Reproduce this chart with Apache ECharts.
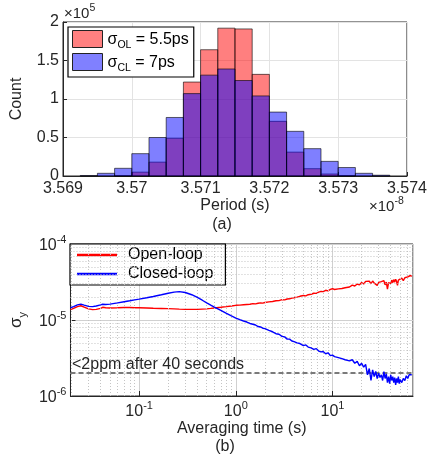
<!DOCTYPE html>
<html>
<head>
<meta charset="utf-8">
<script src="https://cdn.jsdelivr.net/npm/echarts@6/dist/echarts.min.js"></script>
<style>
html,body{margin:0;padding:0;background:#fff;}
#chart{width:430px;height:457px;}
</style>
</head>
<body>
<div id="chart"></div>
<script>
// ---------- (a) Histogram data (period in 1e-8 s, counts in 1e5) ----------
const binEdges = [3.56925, 3.5695, 3.56975, 3.57, 3.57025, 3.5705, 3.57075, 3.571, 3.57125, 3.5715, 3.57175, 3.572, 3.57225, 3.5725, 3.57275, 3.573, 3.57325, 3.5735, 3.57375];
const openLoopCounts   = [0, 0, 0.003, 0.05, 0.18, 0.49, 1.22, 1.64, 1.92, 1.91, 1.32, 0.71, 0.31, 0.095, 0.026, 0.005, 0, 0];
const closedLoopCounts = [0.005, 0.035, 0.10, 0.29, 0.50, 0.76, 1.07, 1.31, 1.39, 1.24, 1.04, 0.83, 0.58, 0.355, 0.19, 0.11, 0.035, 0.01];
const periodTicks = [3.569, 3.57, 3.571, 3.572, 3.573, 3.574];
const countTicks = [0, 0.5, 1, 1.5, 2];

// ---------- (b) Allan deviation data (sigma in 1e-5) ----------
const tau = [0.0195, 0.021, 0.023, 0.025, 0.027, 0.03, 0.033, 0.036, 0.04, 0.042, 0.045, 0.05, 0.06, 0.07, 0.08, 0.09, 0.1,
  0.12, 0.14, 0.17, 0.2, 0.23, 0.26, 0.3, 0.35, 0.4, 0.45, 0.5, 0.55, 0.6, 0.7, 0.8, 0.9, 1.0,
  1.1, 1.2, 1.3, 1.4, 1.5, 1.6, 1.7, 1.8, 1.9, 2.0, 2.2, 2.4, 2.6, 2.8, 3.0, 3.2, 3.4, 3.6, 3.8, 4.0,
  4.3, 4.6, 5.0, 5.3, 5.6, 6.0, 6.4, 6.8, 7.2, 7.6, 8.0, 8.5, 9.0, 9.5, 10,
  10.5, 11, 11.5, 12, 12.5, 13, 13.5, 14,
  15, 16, 17, 18, 19, 20, 21, 22, 23, 24, 25, 26, 27, 28, 29, 30, 31, 32, 33, 34,
  35, 36, 37, 38, 39, 40, 41, 42, 43, 44, 45, 46, 47, 48, 49, 50,
  52, 54, 56, 58, 60, 62, 64, 66];
const openLoop = [1.37, 1.42, 1.50, 1.54, 1.48, 1.40, 1.37, 1.38, 1.42, 1.47, 1.45, 1.44, 1.45, 1.46, 1.46, 1.45, 1.45,
  1.44, 1.43, 1.42, 1.41, 1.40, 1.39, 1.38, 1.38, 1.38, 1.39, 1.40, 1.42, 1.44, 1.47, 1.50, 1.53, 1.56,
  1.57, 1.59, 1.60, 1.61, 1.64, 1.63, 1.66, 1.68, 1.67, 1.70, 1.73, 1.75, 1.79, 1.80, 1.85, 1.84, 1.89, 1.90, 1.94, 1.96,
  2.00, 2.05, 2.10, 2.08, 2.15, 2.18, 2.25, 2.24, 2.33, 2.38, 2.36, 2.46, 2.42, 2.53, 2.58,
  2.52, 2.64, 2.57, 2.68, 2.60, 2.74, 2.66, 2.78,
  2.72, 2.88, 2.80, 2.97, 2.90, 3.12, 2.98, 3.22, 3.05, 3.24, 3.00, 3.26, 3.06, 3.18, 2.86, 3.12, 2.95, 3.20, 3.05, 3.30,
  2.90, 3.15, 2.55, 3.10, 3.25, 3.00, 3.35, 3.10, 3.40, 3.15, 3.45, 3.20, 2.85, 3.35, 3.50, 3.25,
  3.55, 3.30, 3.60, 3.45, 3.70, 3.55, 3.85, 3.75];
const closedLoop = [1.45, 1.50, 1.58, 1.62, 1.57, 1.51, 1.50, 1.53, 1.58, 1.61, 1.60, 1.62, 1.68, 1.74, 1.79, 1.84, 1.88,
  1.96, 2.04, 2.15, 2.25, 2.33, 2.36, 2.30, 2.15, 1.98, 1.82, 1.68, 1.57, 1.48, 1.34, 1.22, 1.13, 1.06,
  1.01, 0.97, 0.94, 0.90, 0.88, 0.86, 0.82, 0.81, 0.78, 0.77, 0.73, 0.70, 0.66, 0.65, 0.61, 0.60, 0.56, 0.56, 0.53, 0.52,
  0.50, 0.49, 0.46, 0.47, 0.44, 0.43, 0.41, 0.42, 0.39, 0.38, 0.385, 0.36, 0.37, 0.34, 0.345,
  0.33, 0.345, 0.32, 0.33, 0.31, 0.325, 0.30, 0.31,
  0.29, 0.30, 0.27, 0.285, 0.25, 0.27, 0.24, 0.26, 0.19, 0.23, 0.16, 0.22, 0.18, 0.21, 0.17, 0.20, 0.175, 0.19, 0.16, 0.21,
  0.17, 0.195, 0.15, 0.18, 0.145, 0.19, 0.16, 0.18, 0.15, 0.175, 0.14, 0.17, 0.15, 0.18, 0.145, 0.165,
  0.15, 0.17, 0.16, 0.185, 0.17, 0.19, 0.18, 0.19];
const thresholdValue = 2e-6;
const thresholdText = '<2ppm after 40 seconds';

const FONT = '"Liberation Sans", Arial, sans-serif';
const TXT = '#262626';
const AX = '#262626';
const TAU_MIN = 0.0195, TAU_MAX = 68;

function histData(counts) {
  return counts.map((c, i) => [binEdges[i], binEdges[i + 1], c]);
}
function histItem(fill) {
  return function (params, api) {
    const v = api.value(2);
    if (!v) return null;
    const p0 = api.coord([api.value(0), 0]);
    const p1 = api.coord([api.value(1), v]);
    return {
      type: 'rect',
      shape: { x: p0[0], y: p1[1], width: p1[0] - p0[0], height: p0[1] - p1[1] },
      style: { fill: fill, stroke: 'rgba(0,0,0,0.75)', lineWidth: 0.8 }
    };
  };
}

// minor gridline values for log axes
const minorX = [], minorY = [];
for (let d = -2; d <= 1; d++) for (let k = 2; k <= 9; k++) {
  const v = k * Math.pow(10, d);
  if (v > TAU_MIN && v < TAU_MAX) minorX.push(v);
}
for (let d = -6; d <= -5; d++) for (let k = 2; k <= 9; k++) minorY.push(k * Math.pow(10, d));

const supRich = {
  b: { fontSize: 16, fontFamily: FONT, color: TXT, lineHeight: 20, verticalAlign: 'bottom' },
  e: { fontSize: 11, fontFamily: FONT, color: TXT, lineHeight: 20, verticalAlign: 'top', padding: [0, 0, 6, 0] }
};
const legendRich = {
  a: { fontSize: 16, fontFamily: FONT, color: '#000', lineHeight: 18, verticalAlign: 'bottom' },
  s: { fontSize: 10.5, fontFamily: FONT, color: '#000', lineHeight: 18, verticalAlign: 'bottom', padding: [0, 0, -3, 0] }
};

const chart = echarts.init(document.getElementById('chart'), null, { renderer: 'canvas' });
const option = {
  animation: false,
  backgroundColor: '#fff',
  textStyle: { fontFamily: FONT },
  grid: [
    { left: 63, top: 22, width: 346, height: 154, show: true, borderColor: AX, borderWidth: 1, backgroundColor: '#fff', containLabel: false },
    { left: 63, top: 244, width: 350, height: 152, show: true, borderColor: AX, borderWidth: 1, backgroundColor: '#fff', containLabel: false }
  ],
  xAxis: [
    {
      gridIndex: 0, type: 'value', min: periodTicks[0], max: periodTicks[periodTicks.length - 1], interval: 0.001,
      axisLine: { show: true, lineStyle: { color: AX } },
      axisTick: { show: true, inside: true, length: 4, lineStyle: { color: AX } },
      axisLabel: { color: TXT, fontSize: 16, fontFamily: FONT, margin: 5, formatter: v => String(parseFloat(v.toFixed(3))) },
      splitLine: { show: true, lineStyle: { color: '#e3e3e3', width: 1 } },
      name: 'Period (s)', nameLocation: 'middle', nameGap: 22,
      nameTextStyle: { color: TXT, fontSize: 16, fontFamily: FONT }
    },
    {
      gridIndex: 1, type: 'log', logBase: 10, min: TAU_MIN, max: TAU_MAX,
      axisLine: { show: true, lineStyle: { color: AX } },
      axisTick: { show: true, inside: true, length: 5, lineStyle: { color: AX } },
      axisLabel: {
        showMinLabel: false, showMaxLabel: false, margin: 4,
        formatter: v => '{b|10}{e|' + Math.round(Math.log10(v)) + '}',
        rich: supRich
      },
      splitLine: { show: true, lineStyle: { color: '#d0d0d0', width: 1 } },
      name: 'Averaging time (s)', nameLocation: 'middle', nameGap: 24,
      nameTextStyle: { color: TXT, fontSize: 16, fontFamily: FONT }
    }
  ],
  yAxis: [
    {
      gridIndex: 0, type: 'value', min: countTicks[0], max: countTicks[countTicks.length - 1], interval: 0.5,
      axisLine: { show: true, lineStyle: { color: AX } },
      axisTick: { show: true, inside: true, length: 4, lineStyle: { color: AX } },
      axisLabel: { color: TXT, fontSize: 16, fontFamily: FONT, margin: 4, formatter: v => String(v) },
      splitLine: { show: true, lineStyle: { color: '#e3e3e3', width: 1 } },
      name: 'Count', nameLocation: 'middle', nameGap: 38, nameRotate: 90,
      nameTextStyle: { color: TXT, fontSize: 16, fontFamily: FONT }
    },
    {
      gridIndex: 1, type: 'log', logBase: 10, min: 1e-6, max: 1e-4,
      axisLine: { show: true, lineStyle: { color: AX } },
      axisTick: { show: true, inside: true, length: 5, lineStyle: { color: AX } },
      axisLabel: {
        margin: 4,
        formatter: v => '{b|10}{e|' + Math.round(Math.log10(v)) + '}',
        rich: supRich
      },
      splitLine: { show: true, lineStyle: { color: '#d0d0d0', width: 1 } },
      name: '{b|σ}{s|y}', nameLocation: 'middle', nameGap: 35, nameRotate: 90,
      nameTextStyle: {
        rich: {
          b: { fontSize: 17, fontFamily: FONT, color: TXT, lineHeight: 20, verticalAlign: 'bottom' },
          s: { fontSize: 11, fontFamily: FONT, color: TXT, lineHeight: 20, verticalAlign: 'bottom', padding: [0, 0, -3, 0] }
        }
      }
    }
  ],
  legend: [
    {
      orient: 'vertical', left: 68, top: 27,
      padding: [3, 5, 3, 4], itemGap: 2, itemWidth: 30, itemHeight: 17,
      backgroundColor: '#fff', borderColor: '#000', borderWidth: 1.2, borderRadius: 0,
      data: [
        { name: 'OL', icon: 'rect', itemStyle: { color: '#ff8080', borderColor: '#222', borderWidth: 1 } },
        { name: 'CL', icon: 'rect', itemStyle: { color: '#8080ff', borderColor: '#222', borderWidth: 1 } }
      ],
      formatter: n => n === 'OL' ? '{a|σ}{s|OL}{a| = 5.5ps}' : '{a|σ}{s|CL}{a| = 7ps}',
      textStyle: { rich: legendRich }
    },
    {
      orient: 'vertical', left: 70, top: 244,
      padding: [2, 12, 2, 7], itemGap: 1, itemWidth: 40, itemHeight: 2.4,
      backgroundColor: '#fff', borderColor: '#000', borderWidth: 1.2, borderRadius: 0,
      lineStyle: { width: 2.4 },
      data: [
        { name: 'Open-loop', icon: 'rect', itemStyle: { color: '#ff0000', borderWidth: 0 }, lineStyle: { width: 2.4, color: '#ff0000' } },
        { name: 'Closed-loop', icon: 'rect', itemStyle: { color: '#0000ff', borderWidth: 0 }, lineStyle: { width: 2.4, color: '#0000ff' } }
      ],
      textStyle: { fontSize: 16, fontFamily: FONT, color: '#000', padding: [0, 0, 0, 6], lineHeight: 18 }
    }
  ],
  graphic: [
    { type: 'text', left: 64, top: 3, style: { text: '{m|×10}{e|5}', rich: {
      m: { fontSize: 15, fontFamily: FONT, fill: TXT, lineHeight: 18, verticalAlign: 'bottom' },
      e: { fontSize: 10.5, fontFamily: FONT, fill: TXT, lineHeight: 18, verticalAlign: 'top' } } } },
    { type: 'text', left: 369, top: 196, style: { text: '{m|×10}{e|-8}', rich: {
      m: { fontSize: 15, fontFamily: FONT, fill: TXT, lineHeight: 18, verticalAlign: 'bottom' },
      e: { fontSize: 10.5, fontFamily: FONT, fill: TXT, lineHeight: 18, verticalAlign: 'top' } } } },
    { type: 'text', x: 222, y: 225, style: { text: '(a)', fontSize: 16, fontFamily: FONT, fill: TXT, align: 'center', verticalAlign: 'middle' } },
    { type: 'text', x: 225, y: 447, style: { text: '(b)', fontSize: 16, fontFamily: FONT, fill: TXT, align: 'center', verticalAlign: 'middle' } },
    { type: 'text', x: 72, y: 365, z: 10, style: { text: thresholdText, fontSize: 16, fontFamily: FONT, fill: TXT, align: 'left', verticalAlign: 'middle' } }
  ],
  series: [
    {
      name: 'OL', type: 'custom', xAxisIndex: 0, yAxisIndex: 0, z: 2,
      itemStyle: { color: '#ff8080' },
      renderItem: histItem('rgba(255,0,0,0.5)'),
      encode: { x: [0, 1], y: 2 },
      data: histData(openLoopCounts)
    },
    {
      name: 'CL', type: 'custom', xAxisIndex: 0, yAxisIndex: 0, z: 3,
      itemStyle: { color: '#8080ff' },
      renderItem: histItem('rgba(0,0,255,0.5)'),
      encode: { x: [0, 1], y: 2 },
      data: histData(closedLoopCounts)
    },
    {
      name: 'minorGrid', type: 'line', xAxisIndex: 1, yAxisIndex: 1, z: 1, data: [],
      markLine: {
        silent: true, symbol: 'none', animation: false, label: { show: false },
        lineStyle: { color: '#c4c4c4', type: [1, 2], width: 1 },
        data: minorX.map(v => [{ coord: [v, 1e-6] }, { coord: [v, 1e-4] }])
          .concat(minorY.map(v => [{ coord: [TAU_MIN, v] }, { coord: [TAU_MAX, v] }]))
      }
    },
    {
      name: 'threshold', type: 'line', xAxisIndex: 1, yAxisIndex: 1, z: 2, data: [],
      markLine: {
        silent: true, symbol: 'none', animation: false, label: { show: false },
        lineStyle: { color: '#7a7a7a', type: [5, 3], width: 2 },
        data: [[{ coord: [TAU_MIN, thresholdValue] }, { coord: [TAU_MAX, thresholdValue] }]]
      }
    },
    {
      name: 'Open-loop', type: 'line', xAxisIndex: 1, yAxisIndex: 1, z: 4,
      showSymbol: false, symbol: 'none', color: '#ff0000',
      lineStyle: { color: '#ff0000', width: 1.4 },
      data: tau.map((t, i) => [t, openLoop[i] * 1e-5])
    },
    {
      name: 'Closed-loop', type: 'line', xAxisIndex: 1, yAxisIndex: 1, z: 5,
      showSymbol: false, symbol: 'none', color: '#0000ff',
      lineStyle: { color: '#0000ff', width: 1.4 },
      data: tau.map((t, i) => [t, closedLoop[i] * 1e-5])
    }
  ]
};
chart.setOption(option);
</script>
</body>
</html>
